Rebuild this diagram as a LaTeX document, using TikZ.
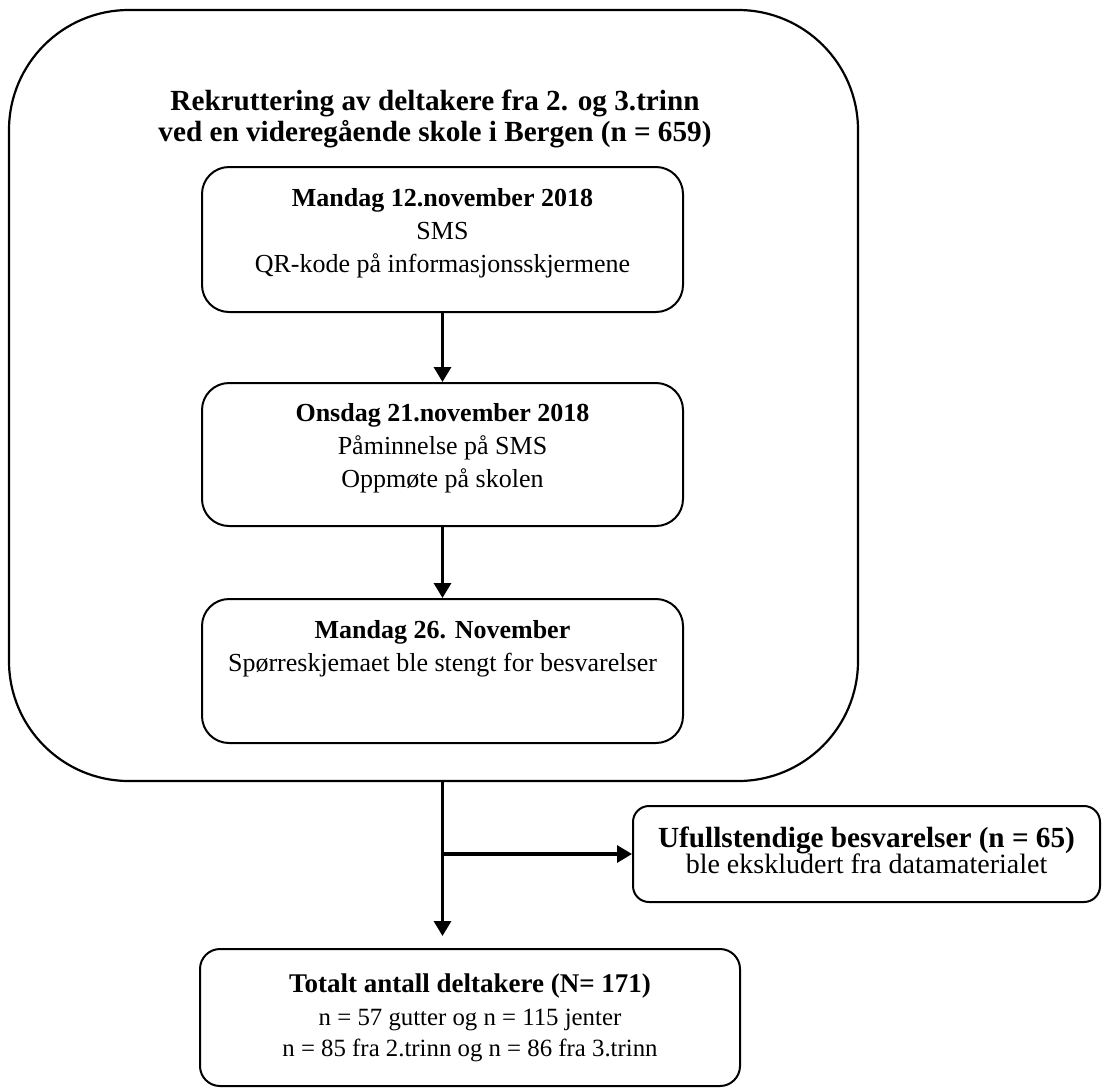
\documentclass[tikz,border=0pt]{standalone}
\usepackage{fontspec}
\setmainfont{Liberation Serif}
\usetikzlibrary{shapes,arrows.meta,positioning}

\tikzset{
	stepbox/.style={draw, line width=1pt, rounded corners=13.5pt, align=center, inner sep=0pt, minimum width=240.5pt, text depth=9pt, font=\fontsize{13}{16.5}\selectfont},
	flow/.style={line width=1.6pt, -{Triangle[width=8.5pt,length=7.5pt]}},
}

\begin{document}
\begin{tikzpicture}[x=0.5pt,y=-0.5pt]
	\useasboundingbox (0,0) rectangle (1102,1088);
	
	\node[draw, line width=1.1pt, rounded corners=60pt, minimum width=424.5pt, minimum height=385.5pt] (outer) at (433.5,395.5) {};
	\node[align=center, font=\bfseries\fontsize{14.6}{15.5}\selectfont] (title) at (435,119) {Rekruttering av deltakere fra 2. og 3.trinn\\ved en videregående skole i Bergen (n = 659)};
	
	\node[stepbox, minimum height=72.5pt] (mon) at (442.5,239.5) {\textbf{Mandag 12.november 2018}\\SMS\\QR-kode på informasjonsskjermene};
	\node[stepbox, minimum height=71.5pt] (wed) at (442.5,454.5) {\textbf{Onsdag 21.november 2018}\\Påminnelse på SMS\\Oppmøte på skolen};
	\node[stepbox, minimum height=72pt] (close) at (442.5,671) {\textbf{Mandag 26. November}\\Spørreskjemaet ble stengt for besvarelser\\\mbox{}};
	
	\node[draw, line width=1pt, rounded corners=8pt, align=center, inner sep=0pt, minimum width=233.5pt, minimum height=48pt, text depth=4pt] (excl) at (866.5,854) {{\bfseries\fontsize{14.6}{14}\selectfont Ufullstendige besvarelser (n = 65)}\\[-1pt]{\fontsize{14}{14}\selectfont ble ekskludert fra datamaterialet}};
	\node[draw, line width=1pt, rounded corners=10pt, align=center, inner sep=0pt, minimum width=270pt, minimum height=68.5pt, font=\fontsize{12.4}{15.5}\selectfont] (total) at (470,1017.5) {{\bfseries\fontsize{13.5}{15}\selectfont Totalt antall deltakere (N= 171)}\\[1pt]n = 57 gutter og n = 115 jenter\\n = 85 fra 2.trinn og n = 86 fra 3.trinn};
	
	\draw[flow] (mon) -- (wed);
	\draw[flow] (wed) -- (close);
	\draw[flow, shorten >=6pt] (outer.south -| close.south) -- (total.north -| close.south);
	\draw[flow] (excl.west -| close.south) -- (excl.west);
\end{tikzpicture}
\end{document}
